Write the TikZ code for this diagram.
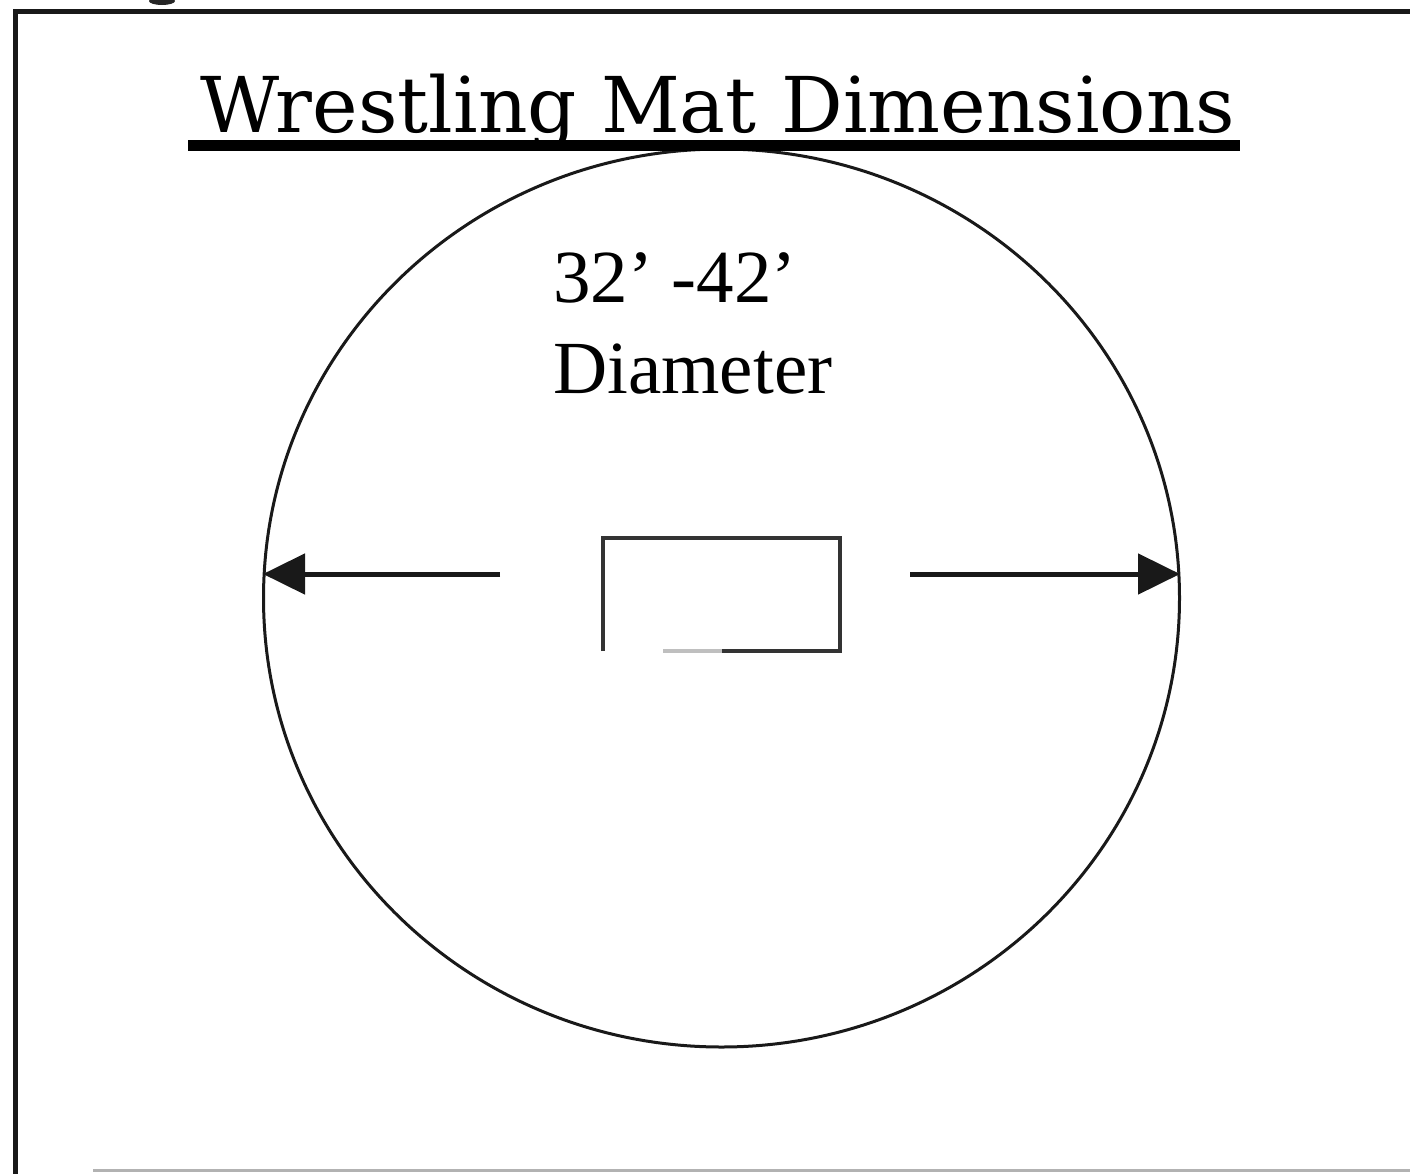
\documentclass[tikz,border=0pt]{standalone}
\usepackage{fontspec}
\setmainfont{Liberation Serif}
\newfontfamily\titlefont{DejaVu Serif}
\usetikzlibrary{arrows.meta,shapes.geometric}
\tikzset{
  frameline/.style={line width=5pt, black!90},
  matline/.style={line width=3pt, black!90},
  dimarrow/.style={line width=5pt, black!90, -{Triangle[length=42pt,width=40pt]}},
  boxline/.style={line width=4pt, black!80},
  label/.style={inner sep=0pt, anchor=base west, font=\fontsize{75}{91}\selectfont}
}
\begin{document}
\begin{tikzpicture}[x=1pt,y=-1pt]
\useasboundingbox (0,0) rectangle (1410,1173);
% page frame
\draw[frameline] (15,1180) -- (15,11) -- (1420,11);
\fill[black!85] (162,1) ellipse [x radius=13pt, y radius=4pt];
\draw[line width=3pt, black!30] (93,1170) -- (1420,1170);
% mat circle
\node[draw, matline, ellipse, minimum width=916pt, minimum height=898pt, inner sep=0pt] (mat) at (721.5,598) {};
% title
\node[inner sep=0pt, anchor=base west] (title) at (200,132)
  {\resizebox{1035pt}{!}{\titlefont\fontsize{74}{74}\selectfont Wrestling Mat Dimensions}};
\fill[black] (188,140) rectangle (1240,151);
% labels
\node[label] (size) at (553,302) {32’ -42’};
\node[label] (diam) at (553,393) {Diameter};
% arrows
\coordinate (la) at (500,574);
\coordinate (ra) at (910,574);
\coordinate (lend) at (263,574);
\coordinate (rend) at (1180,574);
\draw[dimarrow] (la) -- (lend);
\draw[dimarrow] (ra) -- (rend);
% centre box
\draw[boxline, line join=miter] (603,651) -- (603,538) -- (840,538) -- (840,651) -- (720,651);
\draw[line width=4pt, black!25] (663,651) -- (722,651);
\end{tikzpicture}
\end{document}
